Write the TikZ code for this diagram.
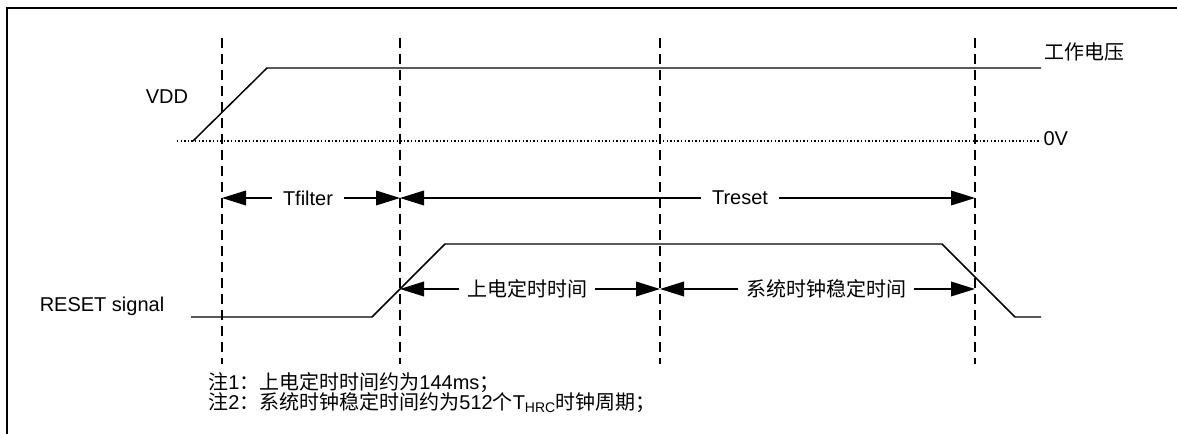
\documentclass[tikz,border=0pt]{standalone}
\usepackage{fontspec}
\setmainfont{Liberation Sans}
\newfontfamily\cjk{Noto Sans CJK SC}
\usetikzlibrary{positioning}
\usetikzlibrary{arrows.meta}
\tikzset{wave/.style={line width=1.1pt,line join=miter}}
\tikzset{guide/.style={line width=1.1pt,dash pattern=on 7.5pt off 4.5pt}}
\tikzset{zeroline/.style={line width=1.1pt,dash pattern=on 1.1pt off 1.6pt}}
\tikzset{span/.style={line width=1.1pt,-{Triangle[length=18pt,width=11pt]}}}
\tikzset{tag/.style={inner sep=8pt,font=\fontsize{15}{18}\selectfont}}
\tikzset{cntag/.style={inner sep=8pt,font=\fontsize{15}{18}\selectfont\cjk}}
\tikzset{note/.style={anchor=west,inner sep=0pt,font=\fontsize{15}{18}\selectfont}}

\begin{document}
\begin{tikzpicture}[x=0.75pt,y=-0.75pt]
    \useasboundingbox (0,0) rectangle (1177,434);
    \draw[line width=1.6pt] (7,434) -- (7,8) -- (1177,8);

    % dashed guides
    \coordinate (g1t) at (222,38);  \coordinate (g1b) at (222,364);
    \coordinate (g2t) at (400,38);  \coordinate (g2b) at (400,364);
    \coordinate (g3t) at (660,38);  \coordinate (g3b) at (660,364);
    \coordinate (g4t) at (975,38);  \coordinate (g4b) at (975,364);
    \draw[guide] (g1t) -- (g1b);
    \draw[guide] (g2t) -- (g2b);
    \draw[guide] (g3t) -- (g3b);
    \draw[guide] (g4t) -- (g4b);

    % VDD
    \node[tag,inner sep=0pt] (vdd) at (167,97) {VDD};
    \coordinate (zbeg) at (177,141);
    \coordinate (zend) at (1041,141);
    \coordinate (vend) at (1041,68);
    \draw[zeroline] (zbeg) -- (zend);
    \draw[wave] (193,141) -- (267,68) -- (vend);
    \node[tag,inner sep=1pt,anchor=west] (zero) at (1042,139) {0V};
    \node[cntag,inner sep=1pt,anchor=west] (work) at (1043,52) {工作电压};

    % Tfilter / Treset
    \node[tag] (tfilter) at (308,198) {Tfilter};
    \node[tag] (treset) at (740,198) {Treset};
    \draw[span] (tfilter.west) -- (tfilter.west -| g1t);
    \draw[span] (tfilter.east) -- (tfilter.east -| g2t);
    \draw[span] (treset.west) -- (treset.west -| g2t);
    \draw[span] (treset.east) -- (treset.east -| g4t);

    % RESET
    \node[tag,inner sep=0pt,anchor=base] (reset) at (102,312) {RESET signal};
    \draw[wave] (191,317) -- (372,317) -- (445,244) -- (942,244) -- (1015,317) -- (1041,317);

    \node[cntag,inner sep=6pt] (pwron) at (527,289) {上电定时时间};
    \node[cntag,inner sep=6pt] (clkok) at (826,289) {系统时钟稳定时间};
    \draw[span] (pwron.west) -- (pwron.west -| g2t);
    \draw[span] (pwron.east) -- (pwron.east -| g3t);
    \draw[span] (clkok.west) -- (clkok.west -| g3t);
    \draw[span] (clkok.east) -- (clkok.east -| g4t);

    % notes
    \node[note] (note1) at (208,383) {{\cjk 注}1{\cjk ：上电定时时间约为}144ms{\cjk ；}};
    \node[note] (note2) at (208,403) {{\cjk 注}2{\cjk ：系统时钟稳定时间约为}512{\cjk 个}T\textsubscript{HRC}{\cjk 时钟周期；}};
\end{tikzpicture}
\end{document}
